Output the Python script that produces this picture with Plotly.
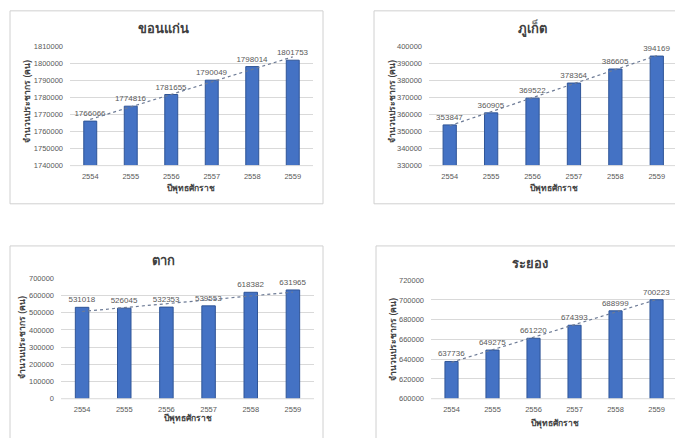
import numpy as np
import plotly.graph_objects as go

W, H = 675, 438

years = ["2554", "2555", "2556", "2557", "2558", "2559"]

khon_kaen = [1766066, 1774816, 1781655, 1790049, 1798014, 1801753]
phuket = [353847, 360905, 369522, 378364, 386605, 394169]
tak = [531018, 526045, 532353, 539553, 618382, 631965]
rayong = [637736, 649275, 661220, 674393, 688999, 700223]

titles = ["ขอนแก่น", "ภูเก็ต", "ตาก", "ระยอง"]
x_title = "ปีพุทธศักราช"
y_title = "จำนวนประชากร (คน)"

series = [khon_kaen, phuket, tak, rayong]
y_ranges = [(1740000, 1810000), (330000, 400000), (0, 700000), (600000, 720000)]
y_steps = [10000, 10000, 100000, 20000]

# panel geometry in pixels: plot area (x0, x1, y_top, y_bottom), frame box, text anchors
panels = [
    dict(plot=(70, 313, 43, 165), box=(10, 323, 7, 204), title=(163, 25),
         xt=(191, 188), yt=(27, 100), xr=(-0.5, 5.5)),
    dict(plot=(429, 675, 43, 165), box=(374, 700, 7, 204), title=(532, 25),
         xt=(554, 188), yt=(392, 100), xr=(-0.5, 5.44)),
    dict(plot=(61, 314, 280, 403), box=(10, 323, 247, 460), title=(163, 262),
         xt=(188, 423), yt=(22, 340), xr=(-0.5, 5.5)),
    dict(plot=(431, 675, 282, 403), box=(376, 700, 247, 460), title=(530, 265),
         xt=(555, 428), yt=(393, 343), xr=(-0.5, 5.45)),
]

BAR = "#4472c4"
BAR_EDGE = "#2f5597"
TXT = "#595959"
GRID = "#d9d9d9"
FONT = "Liberation Sans, Noto Sans, sans-serif"


def px(x):
    return x / W


def py(y):
    return 1 - y / H


fig = go.Figure()
layout = dict(
    width=W, height=H, margin=dict(l=0, r=0, t=0, b=0),
    paper_bgcolor="white", plot_bgcolor="white",
    showlegend=False, bargap=0.68,
    font=dict(family=FONT, color=TXT),
)
shapes, annotations = [], []


def label(text, x, y, size, angle=0):
    annotations.append(dict(
        text=text, xref="paper", yref="paper", x=px(x), y=py(y),
        xanchor="center", yanchor="middle", showarrow=False, textangle=angle,
        font=dict(size=size, color="#404040"),
    ))


for i, (vals, p) in enumerate(zip(series, panels)):
    n = "" if i == 0 else str(i + 1)
    xa, ya = "x" + n, "y" + n
    x0, x1, yt0, yb0 = p["plot"]

    fig.add_trace(go.Bar(
        x=years, y=vals, xaxis=xa, yaxis=ya,
        marker=dict(color=BAR, line=dict(color=BAR_EDGE, width=1)),
        text=[str(v) for v in vals], textposition="outside", constraintext="none",
        textfont=dict(size=8, color=TXT, family=FONT),
        cliponaxis=False, hoverinfo="skip",
    ))

    # linear trend over the six years
    idx = np.arange(len(vals))
    slope, icpt = np.polyfit(idx, vals, 1)
    fig.add_trace(go.Scatter(
        x=years, y=slope * idx + icpt, xaxis=xa, yaxis=ya, mode="lines",
        line=dict(color="#6d7b96", width=1.2, dash="dot"), hoverinfo="skip",
        cliponaxis=False,
    ))

    lo, hi = y_ranges[i]
    layout["xaxis" + n] = dict(
        domain=[px(x0), px(x1)], anchor=ya, type="category",
        range=list(p["xr"]), showgrid=False, showline=False, ticks="",
        tickfont=dict(size=7.5, color=TXT), ticklabelstandoff=5,
    )
    layout["yaxis" + n] = dict(
        domain=[py(yb0), py(yt0)], anchor=xa, range=[lo, hi], dtick=y_steps[i],
        tick0=lo, tickformat="d", showgrid=True, gridcolor=GRID, gridwidth=1,
        zeroline=False, showline=False, ticks="",
        tickfont=dict(size=7.5, color=TXT), ticklabelstandoff=6,
    )
    # bottom baseline of the plot area
    shapes.append(dict(type="line", xref="paper", yref="paper",
                       x0=px(x0), x1=px(x1), y0=py(yb0), y1=py(yb0),
                       line=dict(color=GRID, width=1)))

    bx0, bx1, by0, by1 = p["box"]
    shapes.append(dict(type="rect", xref="paper", yref="paper",
                       x0=px(bx0), x1=px(bx1), y0=py(by1), y1=py(by0),
                       line=dict(color="#d0d0d0", width=1), layer="below"))

    label("<b>" + titles[i] + "</b>", *p["title"], 13)
    label("<b>" + x_title + "</b>", *p["xt"], 8.5)
    label("<b>" + y_title + "</b>", *p["yt"], 8.5, angle=-90)

layout["shapes"] = shapes
layout["annotations"] = annotations
fig.update_layout(**layout)
fig.write_html("out.html")
